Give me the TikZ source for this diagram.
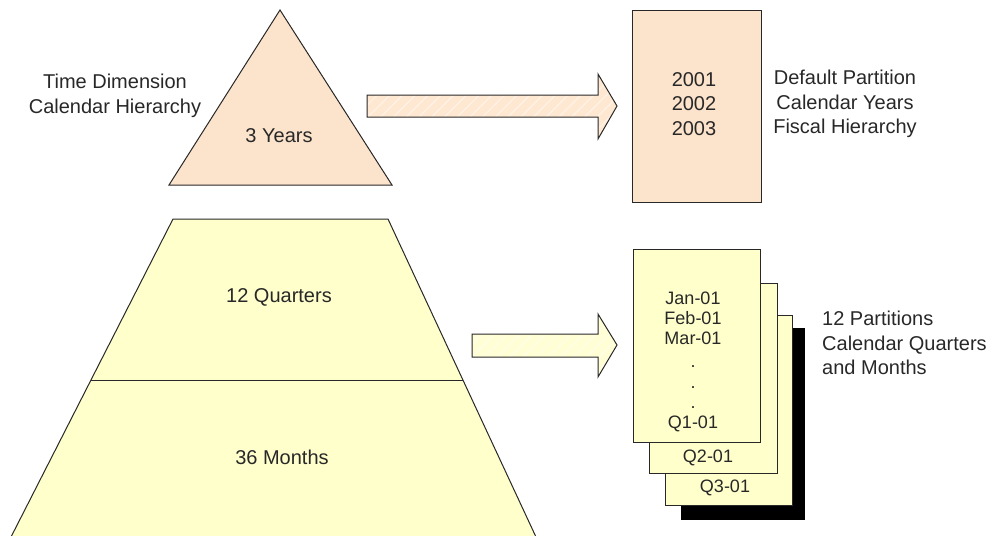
\documentclass[tikz,border=0pt]{standalone}
\usepackage{fontspec}
\setmainfont{Liberation Sans}
\usetikzlibrary{patterns.meta}
\definecolor{peach}{RGB}{252,228,204}
\definecolor{peachlt}{RGB}{255,232,210}
\definecolor{cream}{RGB}{255,255,204}
\definecolor{creamlt}{RGB}{255,254,212}
\definecolor{ink}{RGB}{40,40,40}
\begin{document}
\begin{tikzpicture}[x=1pt,y=-1pt,
  txt/.style={font=\fontsize{20}{24.5}\selectfont, text=ink, align=center, inner sep=0pt},
  stxt/.style={font=\fontsize{18}{20}\selectfont, text=ink, inner sep=0pt},
  outline/.style={draw=ink, line width=1pt},
  hatch/.style={preaction={fill=#1}, preaction={pattern={Lines[angle=45,distance=9pt,line width=1.2pt]}, pattern color=white!45!#1}},
  page/.style={outline, fill=cream, anchor=north west, inner sep=0pt}]
\useasboundingbox (0,0) rectangle (997,536);

% top triangle
\draw[outline, fill=peach] (280,10) -- (392,185) -- (169,185) -- cycle;
\node[txt] (yrs) at (279,136) {3 Years};
\node[txt] (tdim) at (115,96) {Time Dimension\\Calendar Hierarchy};

% trapezoid
\draw[outline, fill=cream] (173,219) -- (388,219) -- (536,537) -- (11,537) -- cycle;
\draw[outline] (91,380) -- (463,380);
\node[txt] (qtr) at (279,297) {12 Quarters};
\node[txt] (mon) at (282,457) {36 Months};

% arrows
\draw[hatch=peachlt, outline] (367,95) -- (598,95) -- (598,74) -- (617,106) -- (598,139) -- (598,117) -- (367,117) -- cycle;
\draw[hatch=creamlt, outline] (472,334) -- (598,334) -- (598,314) -- (617,345) -- (598,377) -- (598,357) -- (472,357) -- cycle;

% default partition box
\node[outline, fill=peach, anchor=north west, minimum width=129pt, minimum height=192pt, inner sep=0pt] (yearbox) at (632,10) {};
\node[txt] (years) at (694,104) {2001\\2002\\2003};
\node[txt] (deflab) at (845,104) {Default Partition\\Calendar Years\\Fiscal Hierarchy};

% stacked partitions
\fill[black] (681,328) rectangle (805,520);
\node[page, minimum width=127pt, minimum height=190pt] (p3) at (665,315) {};
\node[page, minimum width=128pt, minimum height=190pt] (p2) at (649,283) {};
\node[page, minimum width=127pt, minimum height=193pt] (p1) at (633,249) {};
\node[stxt] (jan) at (693,298) {Jan-01};
\node[stxt] (feb) at (693,318) {Feb-01};
\node[stxt] (mar) at (693,338) {Mar-01};
\node[stxt] (d1) at (693,367) {.};
\node[stxt] (d2) at (693,388) {.};
\node[stxt] (d3) at (693,408) {.};
\node[stxt] (q1) at (693,424) {Q1-01};
\node[stxt] (q2) at (708,458) {Q2-01};
\node[stxt] (q3) at (725,488) {Q3-01};
\node[txt, align=left, anchor=west] (plab) at (822,343) {12 Partitions\\Calendar Quarters\\and Months};
\end{tikzpicture}
\end{document}
